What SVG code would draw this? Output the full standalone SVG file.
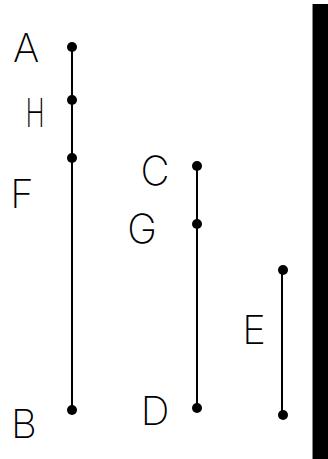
<svg xmlns="http://www.w3.org/2000/svg" width="328" height="459" viewBox="0 0 328 459">
<style>
.ln{stroke:#000;stroke-width:2;fill:none}
.pt{fill:#000}
.lb{font-family:Inter,"Open Sans",sans-serif;font-size:40px;font-weight:200;fill:#000;text-anchor:middle}
</style>
<rect width="328" height="459" fill="#fff"/>
<rect x="312" y="4" width="16" height="455" fill="#000"/>
<rect x="312" y="4" width="1" height="455" fill="#888"/>
<g id="connectors">
<line class="ln" x1="72" y1="46" x2="72" y2="410"/>
<line class="ln" x1="197" y1="165" x2="197" y2="408"/>
<line class="ln" x1="282" y1="270" x2="282" y2="414"/>
</g>
<g id="A"><circle class="pt" cx="72" cy="47" r="5"/><text class="lb" x="26" y="62">A</text></g>
<g id="H"><circle class="pt" cx="72" cy="100" r="5"/><text class="lb" transform="translate(35,127) scale(0.65,1)">H</text></g>
<g id="F"><circle class="pt" cx="72" cy="158" r="5"/><text class="lb" x="22" y="208">F</text></g>
<g id="B"><circle class="pt" cx="72" cy="410" r="5"/><text class="lb" x="24" y="438">B</text></g>
<g id="C"><circle class="pt" cx="197" cy="166" r="5"/><text class="lb" x="155" y="185">C</text></g>
<g id="G"><circle class="pt" cx="197" cy="224" r="5"/><text class="lb" x="142" y="243">G</text></g>
<g id="D"><circle class="pt" cx="197" cy="408" r="5"/><text class="lb" x="155" y="425">D</text></g>
<g id="E"><circle class="pt" cx="283" cy="270" r="5"/><circle class="pt" cx="283" cy="415" r="5"/><text class="lb" x="254" y="344">E</text></g>
</svg>
